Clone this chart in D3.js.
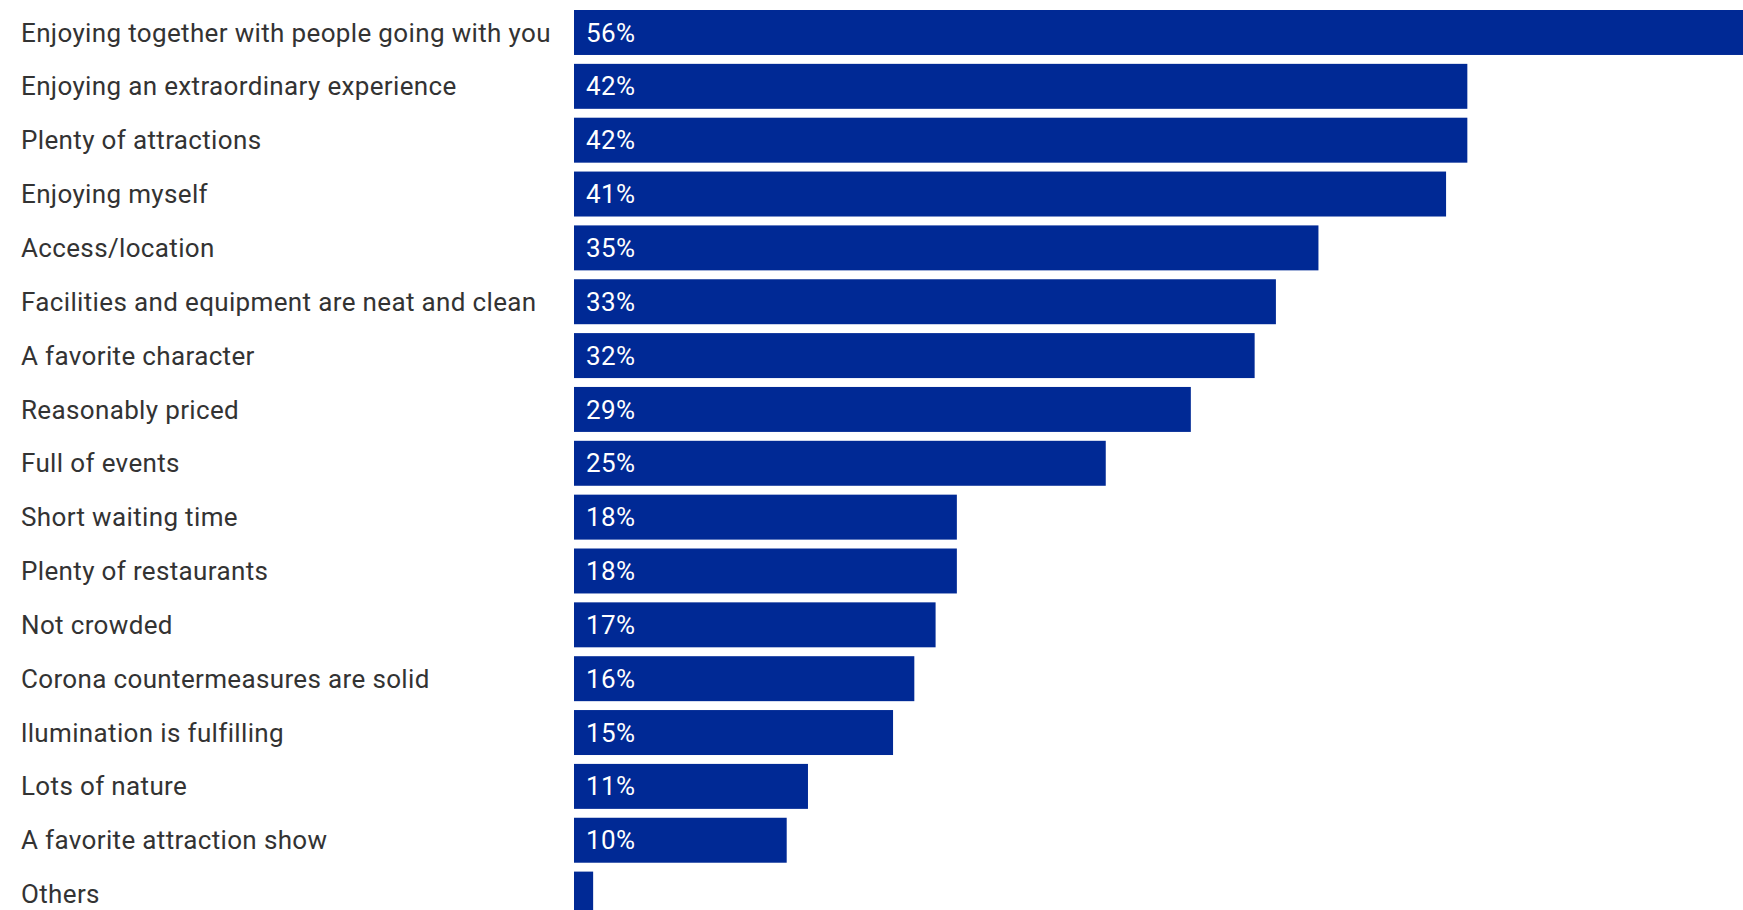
<!DOCTYPE html>
<html>
<head>
<meta charset="utf-8">
<script src="https://cdn.jsdelivr.net/npm/d3@7"></script>
<style>
  html, body { margin: 0; padding: 0; background: #fff; overflow: hidden; }
  svg { display: block; }
</style>
</head>
<body>
<svg id="chart" width="1743" height="910"></svg>
<script>
const categories = [
  "Enjoying together with people going with you",
  "Enjoying an extraordinary experience",
  "Plenty of attractions",
  "Enjoying myself",
  "Access/location",
  "Facilities and equipment are neat and clean",
  "A favorite character",
  "Reasonably priced",
  "Full of events",
  "Short waiting time",
  "Plenty of restaurants",
  "Not crowded",
  "Corona countermeasures are solid",
  "llumination is fulfilling",
  "Lots of nature",
  "A favorite attraction show",
  "Others"
];
const values = [56, 42, 42, 41, 35, 33, 32, 29, 25, 18, 18, 17, 16, 15, 11, 10, 0.9];
const valueLabels = ["56%", "42%", "42%", "41%", "35%", "33%", "32%", "29%", "25%", "18%", "18%", "17%", "16%", "15%", "11%", "10%", ""];

const data = categories.map((c, i) => ({ cat: c, value: values[i], label: valueLabels[i] }));

const svg = d3.select("#chart");
const barLeft = 574, pxPerUnit = 21.27;
const step = 53.85;
const x = d3.scaleLinear().domain([0, 60]).range([barLeft, barLeft + pxPerUnit * 60]);
const y = d3.scaleBand()
  .domain(categories)
  .range([5.56, 5.56 + step * categories.length])
  .paddingInner(0.165)
  .paddingOuter(0.0825);

const font = "Roboto, 'Noto Sans', sans-serif";

svg.selectAll("rect.bar").data(data).join("rect")
  .attr("class", "bar")
  .attr("x", x(0))
  .attr("y", d => y(d.cat))
  .attr("width", d => x(d.value) - x(0))
  .attr("height", y.bandwidth())
  .attr("fill", "#002995");

svg.selectAll("text.cat").data(data).join("text")
  .attr("class", "cat")
  .attr("x", 21)
  .attr("y", d => y(d.cat) + y.bandwidth() / 2)
  .attr("dy", "0.35em")
  .attr("font-family", font)
  .attr("font-size", 26)
  .attr("letter-spacing", "0.35px")
  .attr("fill", "#333333")
  .text(d => d.cat);

svg.selectAll("text.val").data(data).join("text")
  .attr("class", "val")
  .attr("x", x(0) + 12)
  .attr("y", d => y(d.cat) + y.bandwidth() / 2)
  .attr("dy", "0.35em")
  .attr("font-family", font)
  .attr("font-size", 26)
  .attr("letter-spacing", "0.35px")
  .attr("fill", "#ffffff")
  .text(d => d.label);
</script>
</body>
</html>
